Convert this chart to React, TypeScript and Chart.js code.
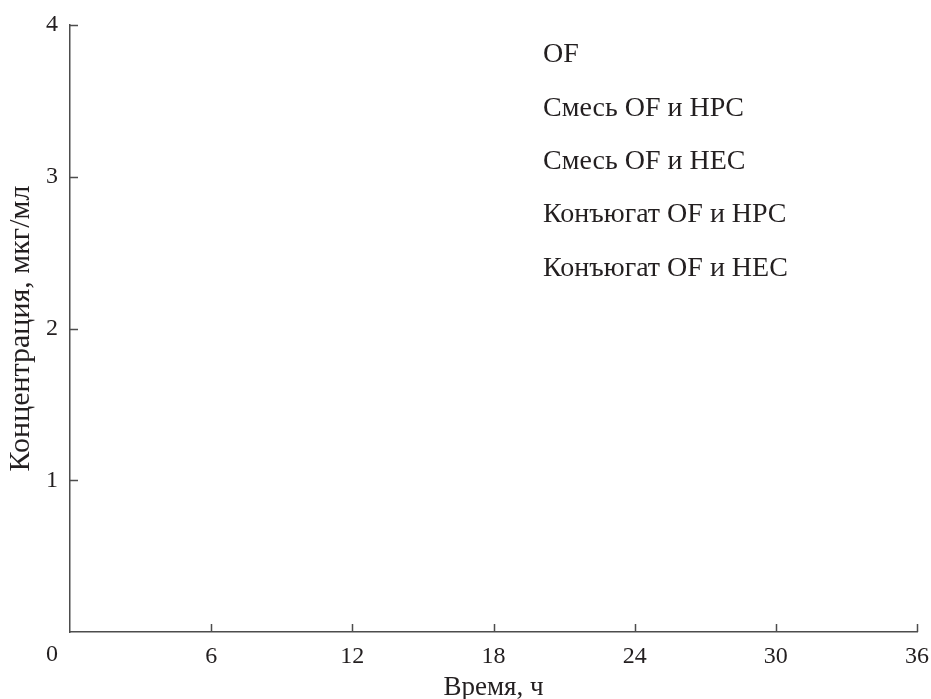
import React, { useEffect, useRef } from "react";
import { Chart, registerables } from "chart.js";

Chart.register(...registerables);

const seriesLabels = [
  "OF",
  "Смесь OF и HPC",
  "Смесь OF и HEC",
  "Конъюгат OF и HPC",
  "Конъюгат OF и HEC",
];
// No data points are visible in the reference figure
const seriesValues: { x: number; y: number }[][] = [[], [], [], [], []];
const xTicks = [0, 6, 12, 18, 24, 30, 36];
const yTicks = [1, 2, 3, 4];
const xTitle = "Время, ч";
const yTitle = "Концентрация, мкг/мл";

const FONT = "'Liberation Serif', 'DejaVu Serif', serif";
const TEXT = "#231f20";
const AXIS = "#4d4d4d";
const TICK_SIZE = 24;

const innerTicks = {
  id: "innerTicks",
  afterDraw(chart: any) {
    const { ctx, chartArea, scales } = chart;
    const len = 8;
    ctx.save();
    ctx.strokeStyle = AXIS;
    ctx.lineWidth = 1.5;
    ctx.beginPath();
    xTicks.forEach((v) => {
      if (v === 0) return;
      const px = Math.round(scales.x.getPixelForValue(v)) + 0.5;
      ctx.moveTo(px, chartArea.bottom);
      ctx.lineTo(px, chartArea.bottom - len);
    });
    yTicks.forEach((v) => {
      const py = Math.round(scales.y.getPixelForValue(v)) + 0.5;
      ctx.moveTo(chartArea.left, py);
      ctx.lineTo(chartArea.left + len, py);
    });
    ctx.stroke();
    // origin label, shifted left as in the reference
    ctx.fillStyle = TEXT;
    ctx.font = `${TICK_SIZE}px ${FONT}`;
    ctx.textAlign = "center";
    ctx.textBaseline = "middle";
    ctx.fillText("0", scales.x.getPixelForValue(0) - 18, chartArea.bottom + 23);
    // text-only legend
    ctx.font = `28px ${FONT}`;
    ctx.textAlign = "left";
    chart.data.datasets.forEach((ds: any, i: number) => {
      ctx.fillText(ds.label, chartArea.left + 473, chartArea.top + 30 + i * 53.3);
    });
    ctx.restore();
  },
};

export default function App() {
  const ref = useRef<HTMLCanvasElement>(null);
  useEffect(() => {
    document.body.style.margin = "0";
    const chart = new Chart(ref.current!, {
      type: "scatter",
      data: {
        datasets: seriesLabels.map((label, i) => ({
          label,
          data: seriesValues[i],
        })),
      },
      plugins: [innerTicks],
      options: {
        animation: false,
        responsive: false,
        layout: { padding: { top: 25, right: 14, left: 0, bottom: 0 } },
        plugins: { legend: { display: false }, tooltip: { enabled: false } },
        scales: {
          x: {
            type: "linear",
            min: 0,
            max: 36,
            afterBuildTicks: (s: any) => {
              s.ticks = xTicks.map((v) => ({ value: v }));
            },
            afterFit: (s: any) => {
              s.height = 67;
              s.paddingRight = 0;
              s.paddingLeft = 0;
            },
            grid: { display: false },
            border: { display: true, color: AXIS, width: 1.5 },
            ticks: {
              color: TEXT,
              font: { family: FONT, size: TICK_SIZE },
              padding: 2,
              maxRotation: 0,
              callback: (v: any) => (v === 0 ? "" : String(v)),
            },
            title: {
              display: true,
              text: xTitle,
              color: TEXT,
              font: { family: FONT, size: 27 },
              padding: { top: 0, bottom: -5 },
            },
          },
          y: {
            type: "linear",
            min: 0,
            max: 4,
            afterBuildTicks: (s: any) => {
              s.ticks = yTicks.map((v) => ({ value: v }));
            },
            afterFit: (s: any) => {
              s.width = 70;
              s.paddingTop = 0;
              s.paddingBottom = 0;
            },
            grid: { display: false },
            border: { display: true, color: AXIS, width: 1.5 },
            ticks: {
              color: TEXT,
              font: { family: FONT, size: TICK_SIZE },
              padding: 4,
            },
            title: {
              display: true,
              text: yTitle,
              color: TEXT,
              font: { family: FONT, size: 30 },
              padding: { top: 3, bottom: 0 },
            },
          },
        },
      },
    });
    return () => chart.destroy();
  }, []);
  return <canvas ref={ref} width={931} height={699} />;
}
